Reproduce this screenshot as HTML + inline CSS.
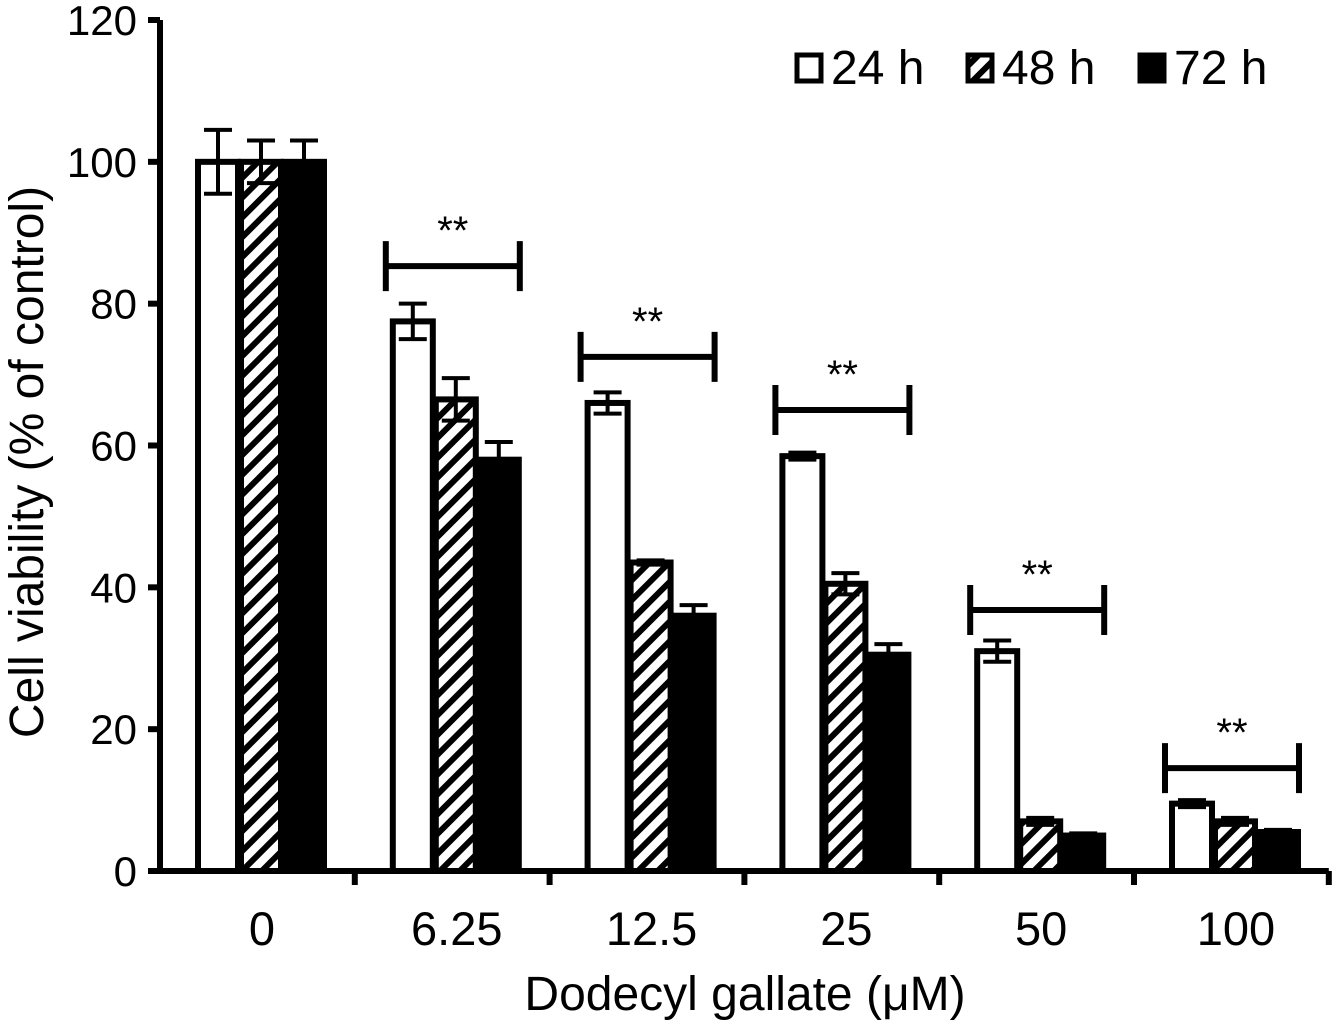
<!DOCTYPE html>
<html><head><meta charset="utf-8"><style>
body{margin:0;background:#fff}
svg text{font-family:"Liberation Sans",Arial,sans-serif;fill:#000}
</style></head><body>
<svg id="chart" width="1336" height="1021" xmlns="http://www.w3.org/2000/svg">
<defs><pattern id="hatch" patternUnits="userSpaceOnUse" width="14" height="14" patternTransform="rotate(45)">
<rect width="14" height="14" fill="#fff"/><rect x="0" y="0" width="6" height="14" fill="#000"/></pattern></defs>
<g id="g"></g>
</svg>
<script>
const categories=["0","6.25","12.5","25","50","100"];
const v24=[100,77.5,66,58.5,31,9.5];
const v48=[100,66.5,43.5,40.5,7,7];
const v72=[100,58,36,30.5,5,5.5];
const e24=[4.5,2.5,1.5,0.5,1.5,0.5];
const e48=[3,3,0.3,1.5,0.5,0.5];
const e72=[3,2.5,1.5,1.5,0.3,0.3];
const sigLevel=[null,85.3,72.5,65,36.8,14.5];
const yTicks=[0,20,40,60,80,100,120];
const NS="http://www.w3.org/2000/svg";
const g=document.getElementById('g');
const x0=160,band=194.8,y0=871,yTop=20;
const y=v=>y0-(v/120)*(y0-yTop);
function el(t,a,txt){const e=document.createElementNS(NS,t);for(const k in a)e.setAttribute(k,a[k]);if(txt!=null)e.textContent=txt;g.appendChild(e);return e;}
const series=[[v24,e24,"#fff","24h"],[v48,e48,"url(#hatch)","48h"],[v72,e72,"#000","72h"]];
categories.forEach((c,i)=>{
 series.forEach((s,j)=>{
  const bx=x0+i*band+38+j*43, w=40, v=s[0][i];
  const r=el('rect',{x:bx,y:y(v),width:w,height:y0-y(v),fill:s[2],stroke:'#000','stroke-width':6});
  
  
  const cx=bx+w/2, e=s[1][i];
  const eb=el('path',{d:`M${cx},${y(v+e)}V${y(v-e)}M${cx-14},${y(v+e)}H${cx+14}M${cx-14},${y(v-e)}H${cx+14}`,stroke:'#000','stroke-width':4,fill:'none'});
  
  
 });
 if(sigLevel[i]!=null){
  const l=x0+i*band+31,r2=x0+i*band+165,yy=y(sigLevel[i]);
  const b=el('path',{d:`M${l},${yy}H${r2}M${l},${yy-25}V${yy+25}M${r2},${yy-25}V${yy+25}`,stroke:'#000','stroke-width':6,fill:'none'});
  
  
  const t=el('text',{x:(l+r2)/2,y:yy-22,'text-anchor':'middle','font-size':40},'**');
  
  
 }
 const xl=el('text',{x:x0+i*band+102,y:945,'text-anchor':'middle','font-size':47},c);
 
 
 const xt=el('line',{x1:x0+(i+1)*band,x2:x0+(i+1)*band,y1:y0,y2:y0+14,stroke:'#000','stroke-width':6});
 
 
});
const ax=el('path',{d:`M${x0},${yTop}V${y0}H${x0+6*band}`,stroke:'#000','stroke-width':6,fill:'none'});


yTicks.forEach(t=>{
 const tk=el('line',{x1:x0-12,x2:x0,y1:y(t),y2:y(t),stroke:'#000','stroke-width':6});
 
 
 const tl=el('text',{x:137,y:y(t)+15,'text-anchor':'end','font-size':42},t);
 
 
});
const yt=el('text',{x:0,y:0,'text-anchor':'middle','font-size':48,transform:'translate(43,462) rotate(-90)'},'Cell viability (% of control)');


const xtl=el('text',{x:745,y:1010,'text-anchor':'middle','font-size':48},'Dodecyl gallate (μM)');


[[797,"#fff","24 h"],[968,"url(#hatch)","48 h"],[1140,"#000","72 h"]].forEach(L=>{
 const r=el('rect',{x:L[0],y:55,width:24,height:26,fill:L[1],stroke:'#000','stroke-width':5});
 
 
 const t=el('text',{x:L[0]+34,y:84,'font-size':48},L[2]);
 
 
});
</script>
</body></html>
